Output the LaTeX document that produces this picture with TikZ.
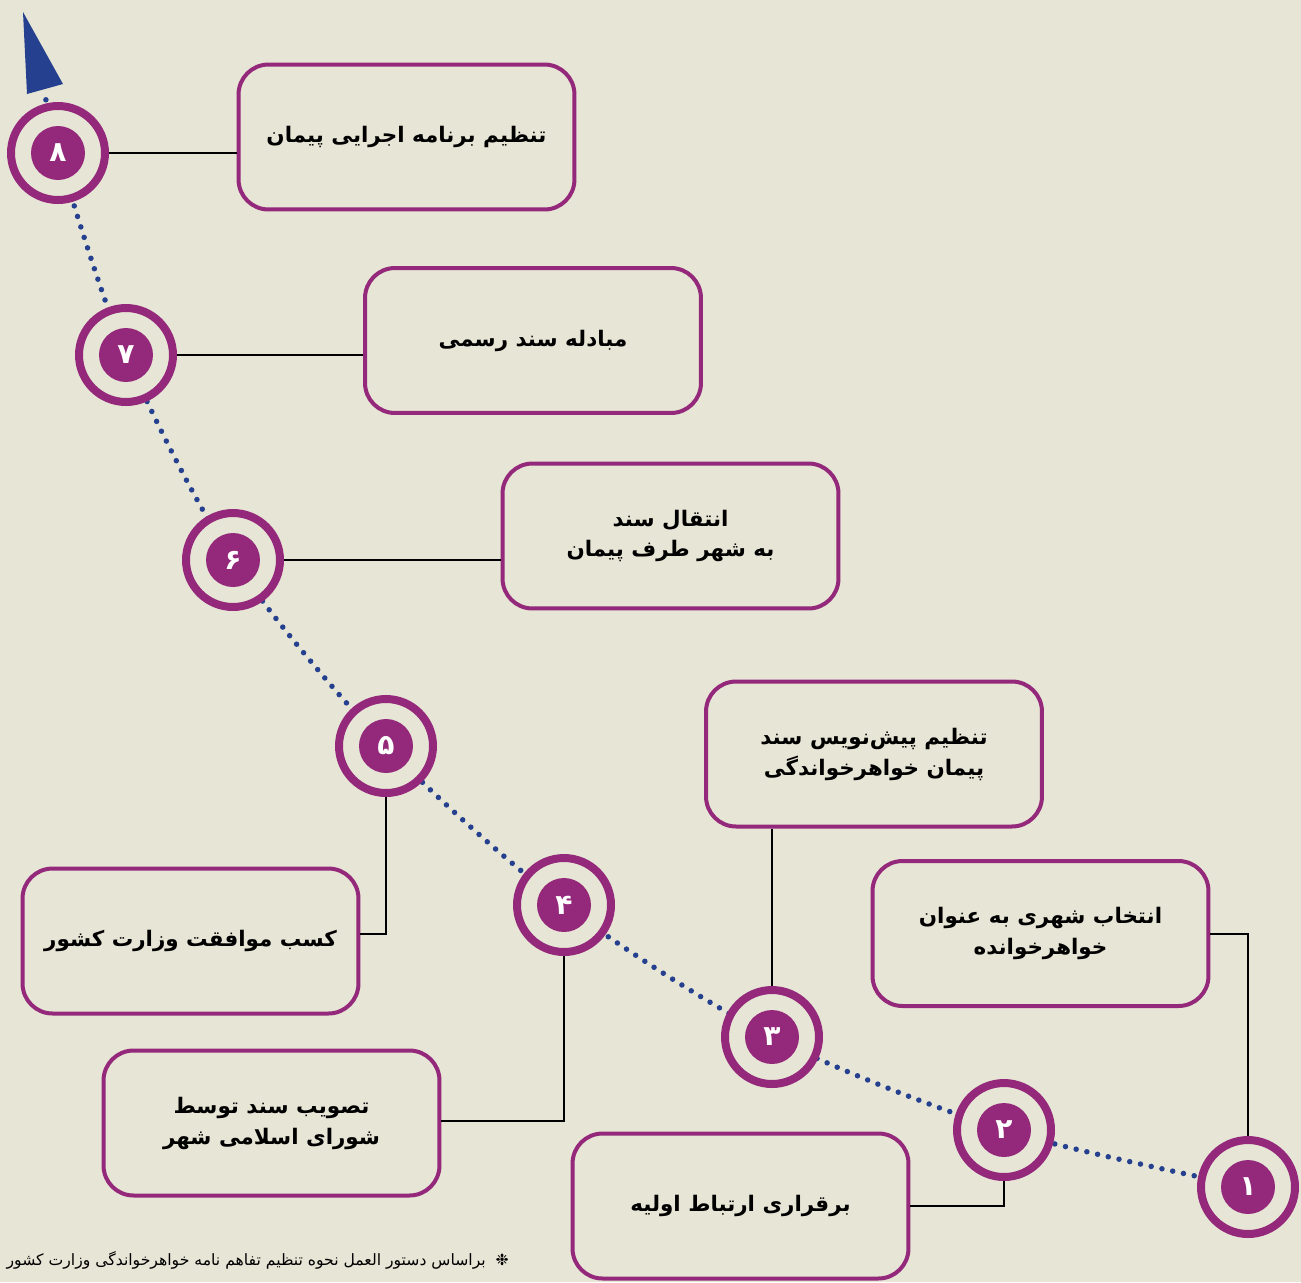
\documentclass[tikz,border=0pt]{standalone}
\usepackage{fontspec}
\setmainfont{DejaVu Sans}
\newfontfamily\farsi[Script=Arabic]{DejaVu Sans}
\TeXXeTstate=1
\usepackage{xcolor}
\usepackage{tikz}
\usetikzlibrary{positioning,calc}
\definecolor{bgcol}{RGB}{231,229,213}
\definecolor{purp}{RGB}{148,41,123}
\definecolor{dotblue}{RGB}{36,64,143}
\newcommand{\fa}[1]{\beginR#1\endR}
\tikzset{
	stepbox/.style = {
			draw=purp, line width=0.08cm, rounded corners=0.6cm,
			fill=bgcol, minimum width=6.72cm, minimum height=2.9cm,
			align=center, font=\farsi\bfseries\fontsize{12.2}{17.6}\selectfont,
		},
	ring/.style = {
			circle, draw=purp, line width=0.16cm, fill=bgcol,
			minimum size=1.88cm, inner sep=0pt,
		},
	numdisc/.style = {
			circle, fill=purp, text=white, minimum size=1.08cm, inner sep=0pt,
			font=\farsi\bfseries\fontsize{16}{16}\selectfont,
		},
	link/.style = {draw=black, line width=0.04cm},
	trail/.style = {draw=dotblue, line width=0.11cm, line cap=round, dash pattern=on 0pt off 0.22cm},
}

\begin{document}
\begin{tikzpicture}[x=0.02cm,y=-0.02cm]
		\useasboundingbox (0,0) rectangle (1301,1282);
		\fill[bgcol] (0,0) rectangle (1301,1282);

		\coordinate (p1) at (1248,1187);
		\coordinate (p2) at (1004,1130);
		\coordinate (p3) at (772,1037);
		\coordinate (p4) at (564,905);
		\coordinate (p5) at (386,746);
		\coordinate (p6) at (233,560);
		\coordinate (p7) at (126,355);
		\coordinate (p8) at (58,153);
		\coordinate (tip) at (45,92);

		% dotted trail and arrow head
		\draw[trail] plot[smooth, tension=0.5] coordinates {(p1) (p2) (p3) (p4) (p5) (p6) (p7) (p8) (tip)};
		\fill[dotblue] (23,12) -- (63,84) -- (27,94) -- cycle;

		\node[ring] at (p1) (c1) {};
		\node[ring] at (p2) (c2) {};
		\node[ring] at (p3) (c3) {};
		\node[ring] at (p4) (c4) {};
		\node[ring] at (p5) (c5) {};
		\node[ring] at (p6) (c6) {};
		\node[ring] at (p7) (c7) {};
		\node[ring] at (p8) (c8) {};

		\node[numdisc] at (p1) (n1) {۱};
		\node[numdisc] at (p2) (n2) {۲};
		\node[numdisc] at (p3) (n3) {۳};
		\node[numdisc] at (p4) (n4) {۴};
		\node[numdisc] at (p5) (n5) {۵};
		\node[numdisc] at (p6) (n6) {۶};
		\node[numdisc] at (p7) (n7) {۷};
		\node[numdisc] at (p8) (n8) {۸};

		\node[stepbox] at (1040.5,933.5) (b1) {\fa{انتخاب شهری به عنوان}\\\fa{خواهرخوانده}};
		\node[stepbox] at (740.5,1206) (b2) {\fa{برقراری ارتباط اولیه}};
		\node[stepbox] at (874,754) (b3) {\fa{تنظیم پیش‌نویس سند}\\\fa{پیمان خواهرخواندگی}};
		\node[stepbox] at (271.5,1123) (b4) {\fa{تصویب سند توسط}\\\fa{شورای اسلامی شهر}};
		\node[stepbox] at (190.5,941) (b5) {\fa{کسب موافقت وزارت کشور}};
		\node[stepbox] at (670.5,536) (b6) {\fa{انتقال سند}\\\fa{به شهر طرف پیمان}};
		\node[stepbox] at (533,340.5) (b7) {\fa{مبادله سند رسمی}};
		\node[stepbox] at (406.5,137) (b8) {\fa{تنظیم برنامه اجرایی پیمان}};

		\draw[link] (c1) |- (b1.east);
		\draw[link] (c2) |- (b2.east);
		\draw[link] (c3) -- (c3 |- b3.south);
		\draw[link] (c4) |- ([yshift=0.04cm]b4.east);
		\draw[link] (c5) |- ([yshift=0.14cm]b5.east);
		\draw[link] (c6) -- (c6 -| b6.west);
		\draw[link] (c7) -- (c7 -| b7.west);
		\draw[link] (c8) -- (c8 -| b8.west);

		\node[anchor=east, font=\farsi\fontsize{8.9}{11}\selectfont] at (515,1260) (note) {\fa{❉\ \ براساس دستور العمل نحوه تنظیم تفاهم نامه خواهرخواندگی وزارت کشور}};
	\end{tikzpicture}
\end{document}
